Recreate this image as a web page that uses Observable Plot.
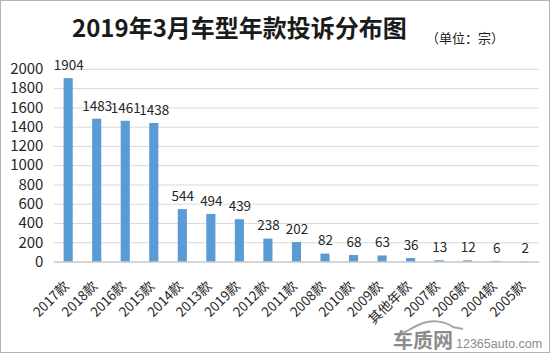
<!DOCTYPE html>
<html>
<head>
<meta charset="utf-8">
<script src="https://cdn.jsdelivr.net/npm/d3@7"></script>
<script src="https://cdn.jsdelivr.net/npm/@observablehq/plot@0.6"></script>
<style>
  html, body { margin: 0; padding: 0; background: #fff; }
  #wrap { position: relative; width: 550px; height: 353px; box-sizing: border-box; border: 1px solid #b4b4b4; overflow: hidden; font-family: "Noto Sans CJK SC", "Noto Sans", sans-serif; }
  #chart { position: absolute; left: -1px; top: -1px; }
  #title { position: absolute; left: 71px; top: 14px; font-size: 24px; font-weight: bold; color: #1a1a1a; white-space: nowrap; line-height: 1; font-family: "Noto Sans CJK SC", sans-serif; }
  #unit { position: absolute; left: 425px; top: 30px; font-size: 13px; color: #1a1a1a; white-space: nowrap; line-height: 1; }
  #wm { position: absolute; left: 392px; top: 329px; white-space: nowrap; color: #8c8c8c; line-height: 1; }
  #wm .cn { font-size: 20px; font-weight: bold; }
  #wm .en { font-size: 12.5px; margin-left: 3px; font-family: "Liberation Sans", sans-serif; }
  #car { position: absolute; left: 400px; top: 319px; }
</style>
</head>
<body>
<div id="wrap">
  <div id="chart"></div>
  <div id="title">2019年3月车型年款投诉分布图</div>
  <div id="unit">（单位：宗）</div>
  <svg id="car" width="64" height="14"><path d="M2,13 C10,9 14,6 22,3 C32,0 44,1 52,7 L62,9" fill="none" stroke="#a6a6a6" stroke-width="2"/></svg>
  <div id="wm"><span class="cn">车质网</span><span class="en">12365auto.com</span></div>
</div>
<script>
const categories = ["2017款","2018款","2016款","2015款","2014款","2013款","2019款","2012款","2011款","2008款","2010款","2009款","其他年款","2007款","2006款","2004款","2005款"];
const values = [1904,1483,1461,1438,544,494,439,238,202,82,68,63,36,13,12,6,2];
const yTicks = [0,200,400,600,800,1000,1200,1400,1600,1800,2000];

const data = categories.map((c, i) => ({category: c, value: values[i]}));

const chart = Plot.plot({
  width: 550,
  height: 353,
  marginLeft: 54,
  marginRight: 10,
  marginTop: 69,
  marginBottom: 91,
  style: {fontFamily: '"Noto Sans CJK SC", sans-serif', background: "transparent"},
  x: {domain: categories, paddingInner: 0.68, paddingOuter: 0.34, round: false, label: null},
  y: {domain: [0, 2000], label: null},
  marks: [
    Plot.gridY(yTicks, {stroke: "#d9d9d9", strokeOpacity: 1}),
    Plot.barY(data, {x: "category", y: "value", fill: "#5b9bd5"}),
    Plot.ruleY([0], {stroke: "#bfbfbf"}),
    Plot.text(data, {x: "category", y: "value", text: d => String(d.value), dy: -13, fontSize: 13.5, fill: "#262626"}),
    Plot.axisY(yTicks, {tickSize: 0, tickPadding: 11, fontSize: 15, fill: "#262626", tickFormat: d => String(d), label: null}),
    Plot.axisX({tickSize: 0, tickPadding: 22, dx: -2, tickRotate: -45, fontSize: 13.5, fill: "#262626", label: null})
  ]
});
document.getElementById("chart").appendChild(chart);
</script>
</body>
</html>
